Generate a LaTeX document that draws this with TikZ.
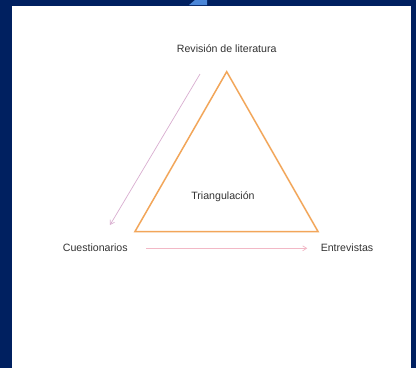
\documentclass[tikz,border=0pt]{standalone}
\usepackage{fontspec}
\setmainfont{Liberation Sans}
\usetikzlibrary{arrows.meta}
\definecolor{bgblue}{HTML}{002060}
\definecolor{wedge}{HTML}{4A86D8}
\definecolor{tri}{HTML}{F2A65A}
\definecolor{pinkarrow}{HTML}{F2B8C6}
\definecolor{purparrow}{HTML}{D9AED0}
\definecolor{txt}{HTML}{333333}
\begin{document}
\begin{tikzpicture}[x=1pt,y=-1pt,
  lbl/.style={font=\fontsize{10.6}{12}\selectfont, text=txt, inner sep=0pt},
  conn/.style={line width=0.7pt, -{Straight Barb[length=4pt,width=5pt]}}]
\useasboundingbox (0,0) rectangle (416,368);
\fill[bgblue] (0,0) rectangle (416,368);
\fill[white] (12,6) rectangle (411,368);
\fill[wedge] (189,5) -- (207,5) -- (207,0) -- (195,0) -- cycle;
% triangle
\coordinate (A) at (226.7,71.7);
\coordinate (B) at (135,231.5);
\coordinate (C) at (318,231.5);
\draw[tri, line width=1.5pt, line join=miter] (A) -- (B) -- (C) -- cycle;
\node[lbl] (rev) at (226.7,49) {Revisión de literatura};
\node[lbl] (tri) at (223,196.7) {Triangulación};
\node[lbl] (cue) at (95.3,247.7) {Cuestionarios};
\node[lbl] (ent) at (347,247.7) {Entrevistas};
\coordinate (d1) at (200,74);
\coordinate (d2) at (110,225);
\coordinate (h1) at (146,248.3);
\coordinate (h2) at (307.3,248.3);
\draw[conn, purparrow] (d1) -- (d2);
\draw[conn, pinkarrow] (h1) -- (h2);
\end{tikzpicture}
\end{document}
